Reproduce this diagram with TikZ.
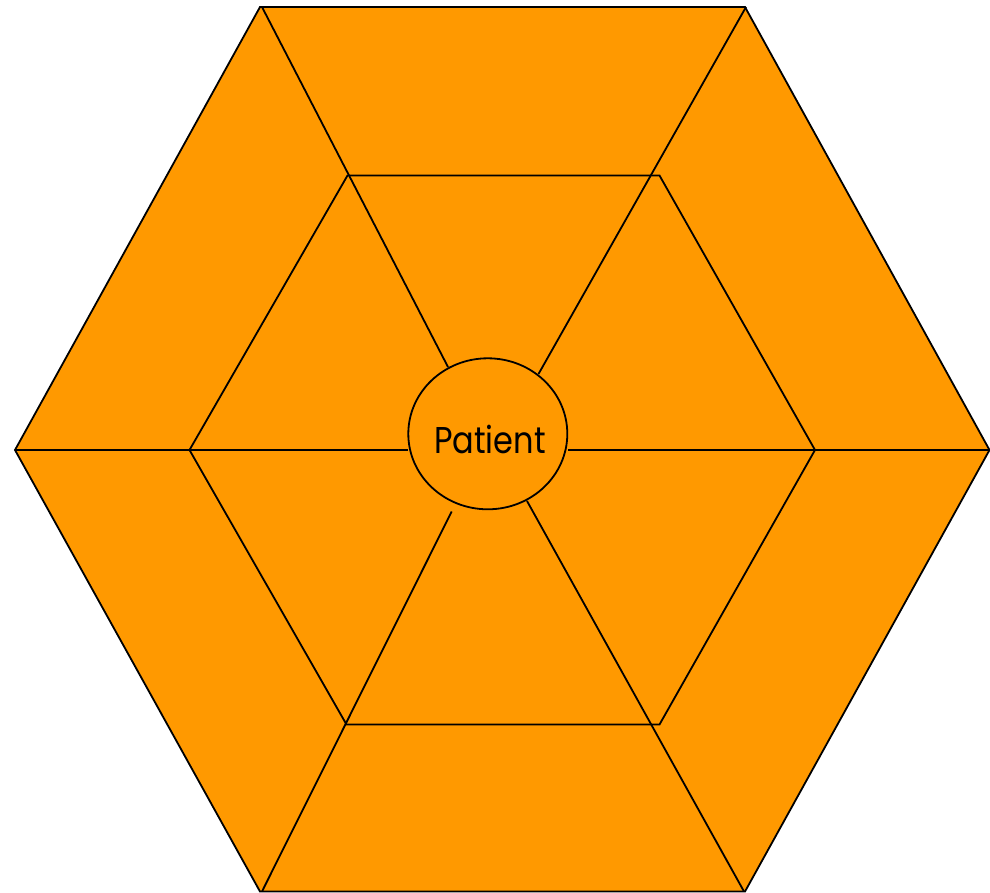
\documentclass[tikz,border=0pt]{standalone}
\usepackage{fontspec}
\usepackage{graphicx}
\usetikzlibrary{shapes.geometric}
\newfontfamily\labelfont{Poppins}
\definecolor{hexorange}{RGB}{255,153,0}
\begin{document}
\begin{tikzpicture}[x=1pt,y=-1pt,line join=miter]
\tikzset{
  edge/.style={draw=black,line width=1.8pt},
  hexfill/.style={fill=hexorange,draw=black,line width=1.8pt},
}
\useasboundingbox (0,0) rectangle (990,893);
% outer hexagon
\coordinate (o1) at (260,7);
\coordinate (o2) at (745,7);
\coordinate (o3) at (989.5,450);
\coordinate (o4) at (745,891.5);
\coordinate (o5) at (260,891.5);
\coordinate (o6) at (15,450);
\path[hexfill] (o1) -- (o2) -- (o3) -- (o4) -- (o5) -- (o6) -- cycle;
% inner hexagon
\coordinate (i1) at (347.5,175.5);
\coordinate (i2) at (659.5,175.5);
\coordinate (i3) at (815,450);
\coordinate (i4) at (659.5,724.5);
\coordinate (i5) at (346.5,724.5);
\coordinate (i6) at (189.5,450);
\path[edge] (i1) -- (i2) -- (i3) -- (i4) -- (i5) -- (i6) -- cycle;
% radial lines
\coordinate (a1) at (262,7);
\coordinate (b1) at (448,367);
\coordinate (a2) at (746,7);
\coordinate (b2) at (538.5,374);
\coordinate (a3) at (989.5,450);
\coordinate (b3) at (568,450);
\coordinate (a4) at (744,891.5);
\coordinate (b4) at (527,501);
\coordinate (a5) at (262,891.5);
\coordinate (b5) at (451.7,511.5);
\coordinate (a6) at (15,450);
\coordinate (b6) at (408,450);
\foreach \k in {1,...,6} { \draw[edge] (a\k) -- (b\k); }
% centre
\node[hexfill,ellipse,minimum width=159pt,minimum height=151pt,inner sep=0pt] (c) at (487.8,433.8) {};
\node[anchor=base,inner sep=0pt,font=\labelfont\fontsize{33}{33}\selectfont] (lbl) at (490,453.3) {\scalebox{0.97}[1.13]{Patient}};
\end{tikzpicture}
\end{document}
